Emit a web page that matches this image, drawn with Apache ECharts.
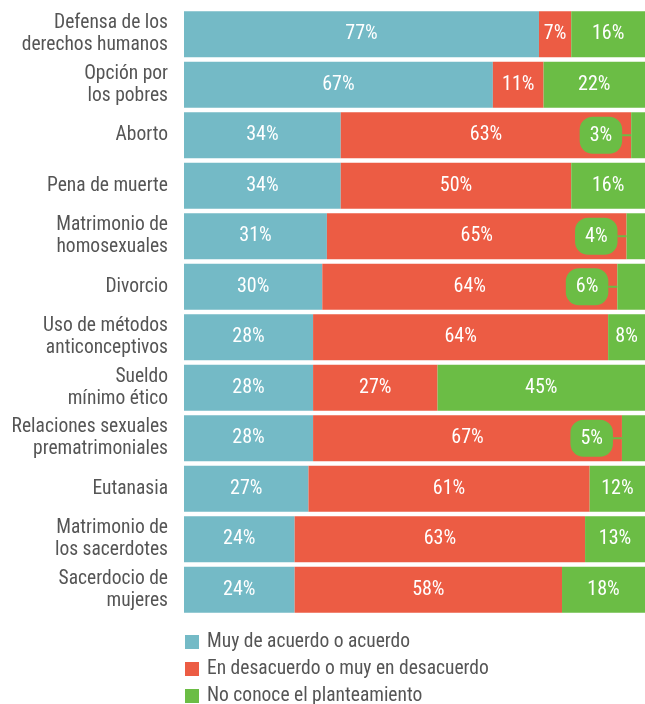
<!DOCTYPE html>
<html><head><meta charset="utf-8">
<script src="https://cdn.jsdelivr.net/npm/echarts@6/dist/echarts.min.js"></script>
<style>html,body{margin:0;padding:0;background:#fff}#c{width:645px;height:704px}</style>
</head><body><div id="c"></div>
<script>
const categories = ["Defensa de los\nderechos humanos","Opción por\nlos pobres","Aborto","Pena de muerte","Matrimonio de\nhomosexuales","Divorcio","Uso de métodos\nanticonceptivos","Sueldo\nmínimo ético","Relaciones sexuales\nprematrimoniales","Eutanasia","Matrimonio de\nlos sacerdotes","Sacerdocio de\nmujeres"];
const seriesNames = ["Muy de acuerdo o acuerdo","En desacuerdo o muy en desacuerdo","No conoce el planteamiento"];
const agree = [77,67,34,34,31,30,28,28,28,27,24,24];
const disagree = [7,11,63,50,65,64,64,27,67,61,63,58];
const unknown = [16,22,3,16,4,6,8,45,5,12,13,18];
const colors = ["#74BAC6","#EC5C44","#6BBD45"];
const FONT = "'Roboto Condensed','Liberation Sans Narrow','Liberation Sans',sans-serif";

const chart = echarts.init(document.getElementById('c'), null, {renderer:'canvas'});
function mk(name, data, color){
  return {
    name, type:'bar', stack:'t', data, barCategoryGap:'9%',
    itemStyle:{color},
    label:{show:true, position:'inside', color:'#fff', fontSize:20, fontFamily:FONT, formatter:'{c}%'}
  };
}
const calloutLabel = {
  position:'left', distance:0,
  formatter: p => '{b|' + p.value + '%}{l|}',
  rich:{
    b:{backgroundColor:'#6BBD45', color:'#fff', fontSize:20, fontFamily:FONT, borderRadius:13, padding:[9,10,8,10], verticalAlign:'middle'},
    l:{backgroundColor:'#6BBD45', width:9, height:2, verticalAlign:'middle'}
  }
};
const unknownData = unknown.map(v => v <= 6 ? {value:v, label:calloutLabel} : v);
chart.setOption({
  animation:false,
  textStyle:{fontFamily:FONT},
  grid:{left:184, right:0, top:9, bottom:89, containLabel:false},
  xAxis:{type:'value', min:0, max:100, show:false},
  yAxis:{type:'category', data:categories, inverse:true,
    axisLine:{show:false}, axisTick:{show:false},
    axisLabel:{color:'#555', fontSize:19.5, lineHeight:22, margin:16, fontFamily:FONT, align:'right'}},
  legend:{orient:'vertical', left:185, top:632, height:100, padding:0, itemWidth:14, itemHeight:14, itemGap:7, icon:'rect',
    textStyle:{color:'#555', fontSize:19.5, lineHeight:20, fontFamily:FONT, padding:[0,0,0,3]}, data:seriesNames},
  series:[mk(seriesNames[0], agree, colors[0]), mk(seriesNames[1], disagree, colors[1]), mk(seriesNames[2], unknownData, colors[2])]
});
</script></body></html>
